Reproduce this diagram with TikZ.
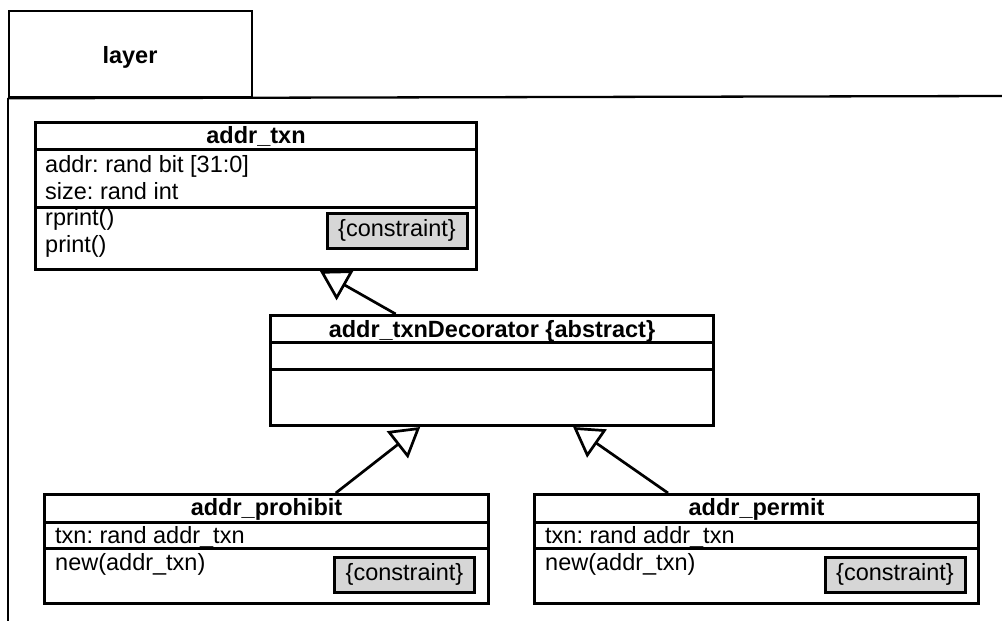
\documentclass[tikz,border=0pt]{standalone}
\usepackage{fontspec}
\setmainfont{Liberation Sans}
\usetikzlibrary{calc,arrows.meta}
\frenchspacing

\begin{document}
\begin{tikzpicture}[x=1pt,y=-1pt,
  every node/.style={font=\fontsize{23.5}{27}\selectfont},
  classbox/.style={draw, line width=3pt, rectangle, anchor=north west, inner sep=0pt},
  divider/.style={line width=3pt},
  frameline/.style={line width=2.3pt},
  txt/.style={anchor=base west, inner sep=0pt},
  title/.style={anchor=base, inner sep=0pt, font=\fontsize{23.5}{27}\selectfont\bfseries},
  constraintbox/.style={draw, line width=3pt, fill=black!16, minimum width=140pt,
    minimum height=35pt, inner sep=0pt},
  inherit/.style={line width=2.7pt, -{Triangle[open, length=29pt, width=34pt, line width=2.7pt]}}
]
\useasboundingbox (0,0) rectangle (1002,621);

% package frame with its tab
\node[draw, frameline, rectangle, anchor=north west, inner sep=0pt,
      minimum width=243pt, minimum height=86pt] (tab) at (8,10) {};
\node[title] (tabname) at (130,63) {layer};
\coordinate (frameRight) at (1002,96);
\coordinate (frameBottom) at (8,621);
\draw[frameline] (tab.south west) -- (frameRight);
\draw[frameline] (tab.south west) -- (frameBottom);

% class addr_txn
\node[classbox, minimum width=441pt, minimum height=147pt] (txn) at (34,121) {};
\draw[divider] ($(txn.north west)+(0,28)$) -- ($(txn.north east)+(0,28)$);
\draw[divider] ($(txn.north west)+(0,86)$) -- ($(txn.north east)+(0,86)$);
\node[title] (txnname) at ($(txn.north)+(0,22)$) {addr\_txn};
\node[txt] (txnA) at ($(txn.north west)+(11,51)$) {addr: rand bit [31:0]};
\node[txt] (txnB) at ($(txn.north west)+(11,78)$) {size: rand int};
\node[txt] (txnC) at ($(txn.north west)+(11,104)$) {rprint()};
\node[txt] (txnD) at ($(txn.north west)+(11,131)$) {print()};
\node[constraintbox] (txnK) at (397,230.5) {\{constraint\}};

% class addr_txnDecorator
\node[classbox, minimum width=443pt, minimum height=110pt] (dec) at (269,314) {};
\draw[divider] ($(dec.north west)+(0,28)$) -- ($(dec.north east)+(0,28)$);
\draw[divider] ($(dec.north west)+(0,55)$) -- ($(dec.north east)+(0,55)$);
\node[title] (decname) at ($(dec.north)+(0,23)$) {addr\_txnDecorator \{abstract\}};

% class addr_prohibit
\node[classbox, minimum width=444pt, minimum height=109pt] (pro) at (43,493) {};
\draw[divider] ($(pro.north west)+(0,29)$) -- ($(pro.north east)+(0,29)$);
\draw[divider] ($(pro.north west)+(0,55)$) -- ($(pro.north east)+(0,55)$);
\node[title] (proname) at ($(pro.north)+(0,22)$) {addr\_prohibit};
\node[txt] (proA) at ($(pro.north west)+(12,50)$) {txn: rand addr\_txn};
\node[txt] (proB) at ($(pro.north west)+(12,77)$) {new(addr\_txn)};
\node[constraintbox] (proK) at (404.5,574.5) {\{constraint\}};

% class addr_permit
\node[classbox, minimum width=444pt, minimum height=109pt] (per) at (533,493) {};
\draw[divider] ($(per.north west)+(0,29)$) -- ($(per.north east)+(0,29)$);
\draw[divider] ($(per.north west)+(0,55)$) -- ($(per.north east)+(0,55)$);
\node[title] (pername) at ($(per.north)+(0,22)$) {addr\_permit};
\node[txt] (perA) at ($(per.north west)+(12,50)$) {txn: rand addr\_txn};
\node[txt] (perB) at ($(per.north west)+(12,77)$) {new(addr\_txn)};
\node[constraintbox] (perK) at (895,574.5) {\{constraint\}};

% generalisations
\draw[inherit] ($(dec.north west)!0.284!(dec.north east)$) -- ($(txn.south west)!0.644!(txn.south east)$);
\draw[inherit] ($(pro.north west)!0.655!(pro.north east)$) -- ($(dec.south west)!0.339!(dec.south east)$);
\draw[inherit] ($(per.north west)!0.302!(per.north east)$) -- ($(dec.south west)!0.682!(dec.south east)$);
\end{tikzpicture}
\end{document}
